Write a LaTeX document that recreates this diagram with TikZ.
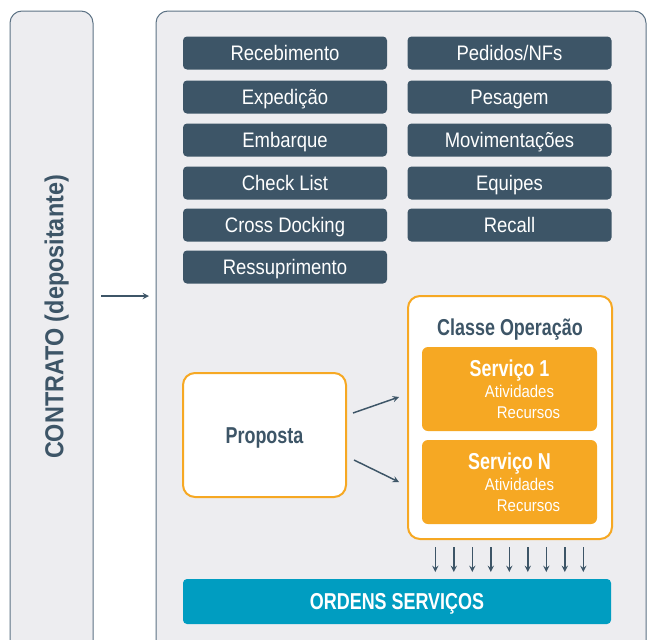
\documentclass[tikz,border=0pt]{standalone}
\usepackage{fontspec}
\setmainfont{Liberation Sans}[FakeStretch=0.88]
\newfontfamily\condbold{Liberation Sans}[FakeStretch=0.78]
\newfontfamily\condwide{Liberation Sans}[FakeStretch=0.9]
\usepackage{xcolor}
\usepackage{tikz}
\usetikzlibrary{positioning,calc}

\definecolor{painelfill}{HTML}{EDEDF0}
\definecolor{painelline}{HTML}{5D7385}
\definecolor{caixaescura}{HTML}{3D5567}
\definecolor{laranja}{HTML}{F6A823}
\definecolor{azulos}{HTML}{009DC1}

\tikzset{
  painel/.style={draw=painelline, fill=painelfill, line width=0.75pt, rounded corners=9pt},
  modulo/.style={rectangle, rounded corners=3pt, fill=caixaescura, text=white,
    minimum width=153pt, minimum height=24.75pt, inner sep=0pt,
    text height=11.3pt, text depth=0pt, font=\fontsize{15.75}{18}\selectfont},
  servico/.style={rectangle, rounded corners=4.5pt, fill=laranja,
    minimum width=131.25pt, minimum height=63pt, inner sep=0pt},
  titulo/.style={inner sep=0pt, text height=12.35pt, text depth=0pt,
    font=\condbold\bfseries\fontsize{17.25}{20}\selectfont},
  subitem/.style={inner sep=0pt, text=white, text height=9.1pt, text depth=0pt,
    font=\fontsize{12.75}{15}\selectfont},
  seta/.style={->, >=stealth, draw=caixaescura, line width=1.1pt}
}

\begin{document}
\begin{tikzpicture}[x=0.75pt,y=0.75pt,yscale=-1,xscale=1]
  \useasboundingbox (0,0) rectangle (648,639);
  \clip (0,0) rectangle (648,639);
  \fill[white] (0,0) rectangle (648,639);

  %Shape: Rounded Rect [contrato]
  \draw[painel] (10,11) rectangle (93,670);
  %Shape: Rounded Rect [painel principal]
  \draw[painel] (156,11) rectangle (646,670);

  % Text Node
  \node (contrato) [rotate=90, inner sep=0pt, text=caixaescura, text height=14pt, text depth=0pt,
    font=\condwide\bfseries\fontsize{19.5}{22}\selectfont] at (54,317) {CONTRATO (depositante)};

  \coordinate (contratoR) at (101,296);
  \coordinate (painelL) at (149,296);
  \draw[seta] (contratoR) -- (painelL);

  % modulos, coluna esquerda
  \node (receb) [modulo] at (285,53)  {Recebimento};
  \node (exped) [modulo] at (285,97)  {Expedição};
  \node (embar) [modulo] at (285,140) {Embarque};
  \node (check) [modulo] at (285,183) {Check List};
  \node (cross) [modulo] at (285,225) {Cross Docking};
  \node (ressu) [modulo] at (285,267) {Ressuprimento};
  % modulos, coluna direita
  \node (pedid) [modulo] at (509.5,53)  {Pedidos/NFs};
  \node (pesag) [modulo] at (509.5,97)  {Pesagem};
  \node (movim) [modulo] at (509.5,140) {Movimentações};
  \node (equip) [modulo] at (509.5,183) {Equipes};
  \node (recal) [modulo] at (509.5,225) {Recall};

  %Shape: Proposta
  \node (prop) [titulo, draw=laranja, line width=1.5pt, fill=white, rounded corners=9pt,
    minimum width=122.25pt, minimum height=93pt, text=caixaescura] at (264.5,435) {Proposta};

  %Shape: Classe Operacao
  \node (classe) [draw=laranja, line width=1.5pt, fill=white, rounded corners=9pt,
    minimum width=153pt, minimum height=182.25pt, inner sep=0pt] at (510,417.5) {};
  \node (classeT) [titulo, text=caixaescura] at (510,327) {Classe Operação};

  \node (serv1) [servico] at (509.5,389) {};
  \node (serv1T) [titulo, text=white] at ($(serv1)+(0,-21)$) {Serviço 1};
  \node (serv1A) [subitem] at ($(serv1)+(10,2)$) {Atividades};
  \node (serv1R) [subitem] at ($(serv1)+(19,23.5)$) {Recursos};

  \node (servN) [servico] at (509.5,482) {};
  \node (servNT) [titulo, text=white] at ($(servN)+(0,-21)$) {Serviço N};
  \node (servNA) [subitem] at ($(servN)+(10,2)$) {Atividades};
  \node (servNR) [subitem] at ($(servN)+(19,23.5)$) {Recursos};

  \coordinate (propA) at (353,413);
  \coordinate (serv1L) at (399,397);
  \coordinate (propB) at (354,460);
  \coordinate (servNL) at (399,482);
  \draw[seta] (propA) -- (serv1L);
  \draw[seta] (propB) -- (servNL);

  %Shape: Ordens Servicos
  \node (ordens) [titulo, fill=azulos, text=white, rounded corners=3pt,
    minimum width=321pt, minimum height=33.75pt] at (397,601.5) {ORDENS SERVIÇOS};

  \foreach \i in {0,...,8}
    \draw[seta] (435.3+18.5*\i,547) -- (435.3+18.5*\i,572);

\end{tikzpicture}
\end{document}
